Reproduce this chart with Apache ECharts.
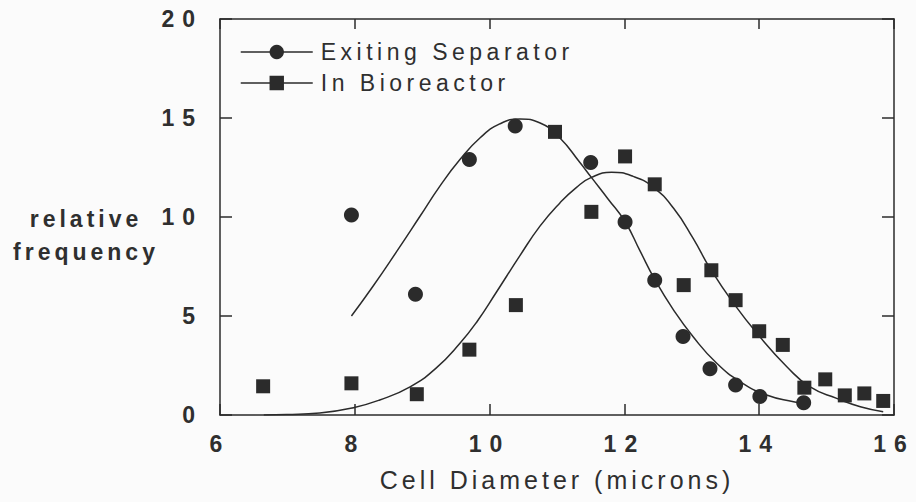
<!DOCTYPE html>
<html>
<head>
<meta charset="utf-8">
<script src="https://cdn.jsdelivr.net/npm/echarts@6/dist/echarts.min.js"></script>
<style>
html,body{margin:0;padding:0;background:#fbfbfb;}
#c{width:916px;height:502px;}
</style>
</head>
<body>
<div id="c"></div>
<script>
// ---- data ----
const xTicks = [6, 8, 10, 12, 14, 16];
const yTicks = [0, 5, 10, 15, 20];
const seriesNames = ['Exiting Separator', 'In Bioreactor'];
const xTitle = 'Cell Diameter (microns)';
const yTitle = 'relative\nfrequency';

const separatorPoints = [[7.95,10.1],[8.9,6.1],[9.7,12.9],[10.38,14.6],[11.5,12.75],[12.01,9.75],[12.45,6.8],[12.87,3.97],[13.27,2.33],[13.65,1.51],[14.01,0.94],[14.66,0.62]];
const bioreactorPoints = [[6.64,1.45],[7.95,1.6],[8.92,1.05],[9.7,3.3],[10.39,5.55],[10.97,14.3],[11.51,10.26],[12.01,13.06],[12.45,11.65],[12.88,6.56],[13.29,7.31],[13.65,5.8],[14.0,4.23],[14.35,3.54],[14.67,1.38],[14.98,1.8],[15.27,0.99],[15.56,1.09],[15.84,0.71]];

const separatorCurve = [[7.95,5.0],[8.27,6.5],[8.62,8.25],[8.97,10.05],[9.26,11.55],[9.56,12.9],[9.86,14.0],[10.15,14.7],[10.45,14.95],[10.75,14.75],[11.04,14.0],[11.34,12.75],[11.51,12.0],[11.76,10.9],[12.01,9.76],[12.23,8.3],[12.45,6.85],[12.73,5.3],[13.02,3.95],[13.37,2.61],[13.72,1.68],[14.11,1.01],[14.51,0.67],[14.66,0.59]];
const bioreactorCurve = [[6.65,0.0],[6.99,0.02],[7.48,0.1],[7.98,0.37],[8.37,0.76],[8.82,1.42],[9.21,2.38],[9.56,3.62],[9.82,4.75],[10.1,6.2],[10.45,8.05],[10.75,9.55],[11.04,10.7],[11.29,11.5],[11.51,12.0],[11.81,12.26],[12.13,12.05],[12.43,11.5],[12.73,10.44],[13.02,8.92],[13.27,7.41],[13.62,5.64],[14.01,3.95],[14.41,2.44],[14.75,1.43],[15.15,0.84],[15.5,0.42],[15.84,0.17]];

// ---- chart ----
const FONT = "'Liberation Sans', Arial, Helvetica, sans-serif";
const INK = '#2b2b2b';
const TXT = '#2f2f2f';
const axisLineStyle = {color: INK, width: 1.5};

function xAx(pos, showLabels, tickLen) {
  const o = {
    type: 'value', position: pos,
    min: xTicks[0], max: xTicks[xTicks.length - 1], interval: xTicks[1] - xTicks[0],
    axisLine: {show: true, onZero: false, lineStyle: axisLineStyle},
    axisTick: {show: true, inside: true, length: tickLen, lineStyle: axisLineStyle},
    axisLabel: {show: showLabels, margin: 17, fontSize: 23, fontWeight: 'bold', color: TXT, fontFamily: FONT},
    splitLine: {show: false}
  };
  if (showLabels) {
    o.name = xTitle; o.nameLocation = 'middle'; o.nameGap = 52;
    o.nameTextStyle = {fontSize: 25, color: TXT, fontFamily: FONT, lineHeight: 25};
  }
  return o;
}
function yAx(pos, showLabels) {
  return {
    type: 'value', position: pos,
    min: yTicks[0], max: yTicks[yTicks.length - 1], interval: yTicks[1] - yTicks[0],
    axisLine: {show: true, onZero: false, lineStyle: axisLineStyle},
    axisTick: {show: true, inside: true, length: 12, lineStyle: axisLineStyle},
    axisLabel: {show: showLabels, margin: 17, fontSize: 23, fontWeight: 'bold', color: TXT, fontFamily: FONT},
    splitLine: {show: false}
  };
}

const chart = echarts.init(document.getElementById('c'), null, {renderer: 'svg'});
chart.setOption({
  backgroundColor: '#fbfbfb',
  animation: false,
  grid: {left: 220, right: 22, top: 19, bottom: 87},
  xAxis: [xAx('bottom', true, 11), xAx('top', false, 10)],
  yAxis: [yAx('left', true), yAx('right', false)],
  graphic: [{
    type: 'text', x: 86, y: 235, silent: true,
    style: {text: yTitle, fill: TXT, font: 'bold 23px ' + FONT, align: 'center', verticalAlign: 'middle', lineHeight: 33}
  }],
  legend: {
    data: seriesNames, orient: 'vertical', left: 240, top: 39, padding: 0,
    itemWidth: 72, itemHeight: 18, itemGap: 5, selectedMode: false,
    textStyle: {fontSize: 23, color: TXT, fontFamily: FONT, lineHeight: 26, padding: [0, 0, 0, 3]},
    lineStyle: {color: INK, width: 1.5, opacity: 1}
  },
  series: [
    {name: seriesNames[0], type: 'line', data: separatorPoints, symbol: 'circle', symbolSize: 15,
     lineStyle: {width: 0, opacity: 0}, itemStyle: {color: INK}, z: 4},
    {name: seriesNames[1], type: 'line', data: bioreactorPoints, symbol: 'rect', symbolSize: 14,
     lineStyle: {width: 0, opacity: 0}, itemStyle: {color: INK}, z: 4},
    {name: 'separator fit', type: 'line', data: separatorCurve, showSymbol: false, smooth: 0.5,
     lineStyle: {color: INK, width: 1.5}, silent: true, z: 3},
    {name: 'bioreactor fit', type: 'line', data: bioreactorCurve, showSymbol: false, smooth: 0.5,
     lineStyle: {color: INK, width: 1.5}, silent: true, z: 3}
  ]
});

// the original typesetting is letter-spaced; apply tracking to the SVG text
function applySpacing() {
  document.querySelectorAll('#c svg text').forEach(function (t) {
    const s = t.textContent || '';
    const fs = parseFloat(getComputedStyle(t).fontSize) || 12;
    const bold = /bold|700/.test(getComputedStyle(t).fontWeight + ' ' + (t.getAttribute('style') || ''));
    let ls;
    if (/^\d+$/.test(s)) ls = 8;
    else if (fs >= 25) ls = 4;
    else if (bold) ls = 4;
    else ls = 4.5;
    t.style.letterSpacing = ls + 'px';
  });
}
applySpacing();
chart.on('finished', applySpacing);
</script>
</body>
</html>
